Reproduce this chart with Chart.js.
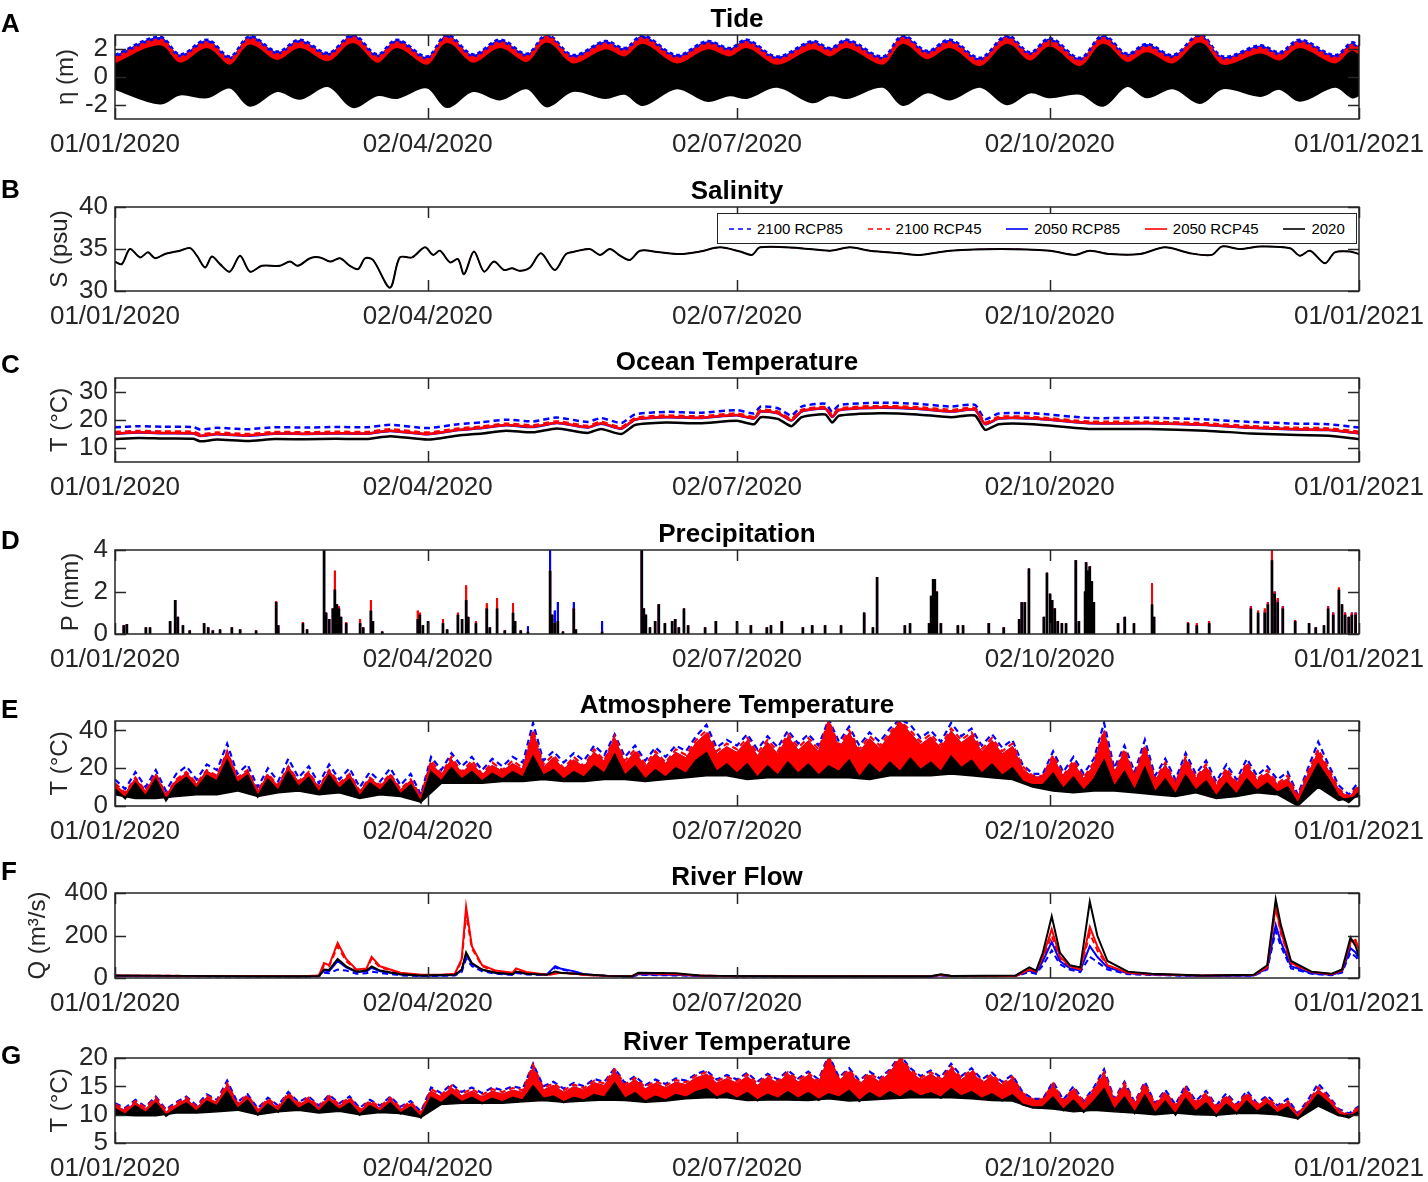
<!DOCTYPE html>
<html><head><meta charset="utf-8">
<script src="https://cdn.jsdelivr.net/npm/chart.js@4.4.1/dist/chart.umd.min.js"></script>
<style>
html,body{margin:0;padding:0;background:#fff;}
#wrap{position:relative;width:1428px;height:1182px;overflow:hidden;font-family:"Liberation Sans",Arial,sans-serif;}
canvas{position:absolute;left:0;}
.letter{position:absolute;left:1px;font-weight:bold;font-size:26px;line-height:26px;color:#000;}
#legend{position:absolute;left:717px;top:213px;width:638px;height:29px;border:1px solid #262626;background:#fff;z-index:5;font-size:15px;color:#000;}
#legend .it{position:absolute;top:0;height:29px;line-height:29px;white-space:nowrap;}
#legend svg{position:absolute;top:10px;}
</style></head><body>
<div id="wrap"></div>
<script>
// ---------- axis / scenario definitions ----------
const xTickDays = [0, 92, 183, 275, 366];
const xTickLabels = ['01/01/2020','02/04/2020','02/07/2020','02/10/2020','01/01/2021'];
const scenarioNames = ['2100 RCP85','2100 RCP45','2050 RCP85','2050 RCP45','2020'];

// ---------- A: Tide (envelopes of high / low water, m) ----------
const tideDays = [0,13.2,19.1,27.1,33.8,39.7,47.7,54.4,62.7,70.0,77.1,83.0,91.8,97.7,105.3,113.3,121.2,127.1,134.7,144.2,150.0,155.3,165.3,174.2,180.9,185.9,194.8,205.1,210.4,215.4,225.9,231.8,238.9,245.7,254.5,262.4,269.2,275.1,283.9,290.7,297.7,303.6,311.3,319.2,326.0,336.9,342.7,348.6,358.9,363.9,366];
const tideHi2020 = [0.9,2.2,0.95,2.0,0.8,2.25,1.15,2.0,1.05,2.35,0.95,2.0,0.8,2.35,0.95,2.0,1.0,2.4,0.9,1.9,1.4,2.3,0.9,1.9,1.4,2.0,0.8,1.9,1.4,2.0,0.8,2.3,1.2,2.0,0.7,2.3,1.1,2.1,0.7,2.3,1.0,1.7,0.9,2.4,0.8,1.6,1.1,2.0,0.9,1.8,1.5];
const tideLo2020 = [-0.85,-1.9,-1.25,-1.45,-0.75,-2.05,-1.0,-1.55,-0.65,-2.15,-1.3,-1.5,-0.75,-2.15,-1.0,-1.6,-0.8,-2.1,-1.0,-1.5,-1.2,-2.0,-0.8,-1.7,-1.3,-1.5,-0.7,-1.8,-1.3,-1.5,-0.7,-2.0,-1.1,-1.6,-0.7,-1.95,-1.1,-1.45,-1.2,-2.05,-0.65,-1.45,-0.8,-1.85,-0.8,-1.35,-0.85,-1.7,-0.7,-1.45,-1.3];
const tideHi2050R45 = [1.2,2.5,1.25,2.3,1.1,2.55,1.45,2.3,1.35,2.65,1.25,2.3,1.1,2.65,1.25,2.3,1.3,2.7,1.2,2.2,1.7,2.6,1.2,2.2,1.7,2.3,1.1,2.2,1.7,2.3,1.1,2.6,1.5,2.3,1.0,2.6,1.4,2.4,1.0,2.6,1.3,2.0,1.2,2.7,1.1,1.9,1.4,2.3,1.2,2.1,1.8];
const tideHi2050R85 = [1.25,2.55,1.3,2.35,1.15,2.6,1.5,2.35,1.4,2.7,1.3,2.35,1.15,2.7,1.3,2.35,1.35,2.75,1.25,2.25,1.75,2.65,1.25,2.25,1.75,2.35,1.15,2.25,1.75,2.35,1.15,2.65,1.55,2.35,1.05,2.65,1.45,2.45,1.05,2.65,1.35,2.05,1.25,2.75,1.15,1.95,1.45,2.35,1.25,2.15,1.85];
const tideHi2100R45 = [1.35,2.65,1.4,2.45,1.25,2.7,1.6,2.45,1.5,2.8,1.4,2.45,1.25,2.8,1.4,2.45,1.45,2.85,1.35,2.35,1.85,2.75,1.35,2.35,1.85,2.45,1.25,2.35,1.85,2.45,1.25,2.75,1.65,2.45,1.15,2.75,1.55,2.55,1.15,2.75,1.45,2.15,1.35,2.85,1.25,2.05,1.55,2.45,1.35,2.25,1.95];
const tideHi2100R85 = [1.55,2.85,1.6,2.65,1.45,2.9,1.8,2.65,1.7,3.0,1.6,2.65,1.45,3.0,1.6,2.65,1.65,3.0,1.55,2.55,2.05,2.95,1.55,2.55,2.05,2.65,1.45,2.55,2.05,2.65,1.45,2.95,1.85,2.65,1.35,2.95,1.75,2.75,1.35,2.95,1.65,2.35,1.55,3.0,1.45,2.25,1.75,2.65,1.55,2.45,2.15];

// ---------- B: Salinity (psu) ----------
const salDays = [0,2,4.4,7.4,9.7,11.8,14.7,19.1,22.1,24.1,26.5,28.5,30.9,33.8,36.8,39.7,43.2,48.5,51.5,53.8,57.4,60.3,63.3,66.2,69.1,71.5,73.6,75.9,80.9,83.8,87.4,91.2,93.6,95.6,98.6,100.9,102.7,105.6,108.6,111.5,114.4,116.8,119.2,122.1,125.3,129.4,132.7,135.3,139.7,142.7,145.6,148.6,151.5,154.5,160.3,166.2,172.1,178.0,183.9,187.4,189.8,201.5,210.4,216.2,222.1,231.0,236.8,245.7,260.4,275.1,282.4,286.8,292.7,301.6,308.9,316.3,322.7,325.7,331.0,336.9,345.7,348.6,351.6,356.0,358.9,363.3,366];
const salinity = [33.5,33.2,35.0,34.0,34.6,33.9,34.4,34.8,35.1,34.2,32.8,34.1,33.2,32.3,34.2,32.3,33.0,33.0,33.5,33.0,33.9,34.0,33.5,33.9,33.0,32.6,33.9,33.7,30.4,34.0,34.0,35.2,34.3,34.8,33.4,33.8,32.0,34.7,32.3,33.5,32.5,32.7,32.4,32.8,34.5,32.5,34.4,34.7,35.0,34.3,35.0,34.2,33.7,34.8,34.6,34.4,34.7,35.2,34.7,34.3,35.2,35.1,34.8,35.2,34.8,34.5,34.3,34.8,35.0,34.8,34.3,34.8,34.4,34.4,35.2,34.5,34.3,35.3,35.0,35.3,35.1,34.2,34.8,33.3,34.6,34.7,34.4];

// ---------- C: Ocean temperature (°C) ----------
const oceanDays = [0,7,14,23,25,30,39,47,56,65,74,81,92,101,108,115,123,130,139,143,149,153,162,172,183,188,190,195,199,202,209,211,213,225,236,246,253,256,260,270,287,304,321,334,348,357,366];
const ocean2020 = [13.2,13.6,13.4,13.3,12.4,13.0,12.5,13.2,13.1,13.3,13.2,14.2,13.0,14.5,15.2,16.2,15.6,17.0,15.4,16.8,15.0,18.2,19.1,18.8,19.7,18.5,21.0,20.4,17.8,21.0,22.0,19.1,21.5,22.4,22.0,21.0,21.6,16.5,18.5,18.5,16.8,16.8,16.2,15.2,14.6,14.4,13.2];
const ocean2050R45 = [15.2,15.6,15.4,15.3,14.4,15.0,14.5,15.2,15.1,15.3,15.2,16.2,15.0,16.5,17.2,18.2,17.6,19.0,17.4,18.8,17.0,20.2,21.1,20.8,21.8,20.6,23.1,22.5,19.9,23.1,24.1,21.2,23.6,24.5,24.1,23.1,23.7,18.6,20.6,20.6,18.9,18.9,18.3,17.3,16.7,16.5,15.3];
const ocean2050R85 = [15.1,15.5,15.3,15.2,14.3,14.9,14.4,15.1,15.0,15.2,15.1,16.1,14.9,16.4,17.1,18.1,17.5,18.9,17.3,18.7,16.9,20.1,21.0,20.7,21.7,20.5,23.0,22.4,19.8,23.0,24.0,21.1,23.5,24.4,24.0,23.0,23.6,18.5,20.5,20.5,18.8,18.8,18.2,17.2,16.6,16.4,15.2];
const ocean2100R45 = [15.7,16.1,15.9,15.8,14.9,15.5,15.0,15.7,15.6,15.8,15.7,16.7,15.5,17.0,17.7,18.7,18.1,19.5,17.9,19.3,17.5,20.7,21.6,21.3,22.3,21.1,23.6,23.0,20.4,23.6,24.6,21.7,24.1,25.0,24.6,23.6,24.2,19.1,21.1,21.1,19.4,19.4,18.8,17.8,17.2,17.0,15.8];
const ocean2100R85 = [17.4,17.8,17.6,17.5,16.6,17.2,16.7,17.4,17.3,17.5,17.4,18.3,17.1,18.5,19.2,20.1,19.5,20.9,19.3,20.7,18.9,22.0,22.9,22.6,23.5,22.3,24.8,24.2,21.6,24.8,25.8,22.9,25.3,26.2,25.8,24.8,25.4,20.3,22.3,22.4,20.7,20.8,20.2,19.3,18.7,18.5,17.3];

// ---------- D: Precipitation (mm) ----------
const precipDays = [2.6,3.5,9.1,10.3,16.2,17.7,18.5,20.0,22.0,26.2,27.4,28.8,30.9,34.4,36.8,41.5,47.4,48.0,55.3,56.5,61.5,62.1,63.0,64.1,64.7,65.3,65.9,66.5,68.0,72.1,73.0,75.3,75.9,78.6,89.1,89.7,90.6,92.1,96.5,97.7,100.9,102.1,103.3,103.9,106.2,109.4,110.3,112.4,114.7,117.1,117.7,119.4,121.5,128.0,128.6,129.4,130.3,131.8,135.0,135.6,143.3,155.0,155.6,156.2,157.4,158.9,160.0,161.8,163.9,164.8,165.9,167.4,168.6,173.6,176.8,183.0,187.1,191.8,193.0,196.2,202.4,205.1,208.9,213.6,220.4,223.0,224.2,232.4,233.9,239.5,240.1,240.7,241.2,241.8,243.0,248.0,249.5,257.1,261.5,266.0,266.8,267.7,268.9,273.3,274.2,275.1,275.7,276.5,277.4,278.6,279.8,282.7,283.6,285.4,285.7,286.3,286.8,287.4,288.0,295.1,297.1,299.8,305.1,305.7,315.7,318.3,321.9,334.2,336.3,338.3,339.2,340.4,341.2,342.1,343.6,347.2,351.3,353.3,355.7,356.9,358.4,360.1,361.0,361.9,363.0,363.9,365.0];
const precip2020 = [0.4,0.45,0.3,0.3,0.6,1.6,0.8,0.4,0.15,0.5,0.3,0.15,0.2,0.3,0.2,0.15,1.5,0.4,0.5,0.2,4.2,1.0,0.7,1.2,2.1,1.4,1.2,0.8,0.5,0.5,0.3,1.1,0.6,0.1,0.7,0.9,0.4,0.6,0.5,0.2,0.9,0.7,1.6,0.8,0.5,1.2,0.3,1.2,0.15,1.0,0.6,0.15,0.1,3.0,0.9,0.5,0.6,0.1,1.2,0.2,0.1,4.2,1.2,0.9,0.3,0.6,1.4,0.5,0.6,0.7,0.3,1.2,0.4,0.3,0.6,0.6,0.4,0.3,0.4,0.6,0.3,0.4,0.4,0.4,1.0,0.3,2.7,0.4,0.5,0.5,1.8,2.6,2.6,2.0,0.5,0.4,0.4,0.5,0.3,0.7,1.5,1.5,3.1,0.8,2.9,1.9,1.6,1.2,0.6,0.5,0.5,3.5,0.6,2.0,3.4,3.0,3.2,2.5,1.5,0.5,0.8,0.5,1.4,0.8,0.5,0.4,0.5,1.2,1.0,1.0,1.4,3.5,1.9,1.5,1.2,0.6,0.5,0.3,0.4,1.2,0.9,2.1,1.4,0.9,0.8,0.9,0.9];
const precipRCP45 = [0.4,0.45,0.3,0.3,0.6,1.6,0.8,0.4,0.15,0.5,0.3,0.15,0.2,0.3,0.2,0.15,1.55,0.4,0.55,0.2,4.2,1.0,0.7,1.2,3.0,1.4,1.3,0.8,0.55,0.7,0.3,1.6,0.6,0.1,1.1,1.0,0.4,0.6,0.7,0.2,1.0,0.7,2.3,0.8,0.6,1.45,0.3,1.7,0.15,1.45,0.6,0.15,0.1,3.0,0.9,0.5,0.6,0.1,1.2,0.2,0.1,4.2,1.2,0.9,0.3,0.6,1.4,0.5,0.6,0.7,0.3,1.2,0.4,0.3,0.6,0.6,0.4,0.3,0.4,0.6,0.3,0.4,0.4,0.4,1.0,0.3,2.7,0.4,0.5,0.5,1.8,2.6,2.6,2.0,0.5,0.4,0.4,0.5,0.3,0.7,1.5,1.5,3.1,0.8,2.9,1.9,1.6,1.2,0.6,0.5,0.5,3.5,0.6,2.0,3.4,3.0,3.2,2.5,1.5,0.5,0.8,0.5,2.4,0.8,0.55,0.5,0.6,1.3,1.1,1.2,1.5,4.2,2.0,1.7,1.3,0.65,0.5,0.3,0.4,1.3,1.0,2.2,1.4,1.0,0.8,1.0,1.0];
const precipRCP85 = [0.4,0.45,0.3,0.3,0.6,1.6,0.8,0.4,0.15,0.5,0.3,0.15,0.2,0.3,0.2,0.15,1.5,0.4,0.5,0.2,4.2,1.0,0.7,1.2,2.1,1.4,1.2,0.8,0.5,0.5,0.3,1.1,0.6,0.1,0.7,0.9,0.4,0.6,0.5,0.2,0.9,0.7,1.6,0.8,0.5,1.2,0.3,1.2,0.15,1.0,0.6,0.15,0.35,4.2,0.9,1.1,1.5,0.1,1.5,0.2,0.6,4.2,1.2,0.9,0.3,0.6,1.4,0.5,0.6,0.7,0.3,1.2,0.4,0.3,0.6,0.6,0.4,0.3,0.4,0.6,0.3,0.4,0.4,0.4,1.0,0.3,2.7,0.4,0.5,0.5,1.8,2.6,2.6,2.0,0.5,0.4,0.4,0.5,0.3,0.7,1.5,1.5,3.1,0.8,2.9,1.9,1.6,1.2,0.6,0.5,0.5,3.5,0.6,2.0,3.4,3.0,3.2,2.5,1.5,0.5,0.8,0.5,1.4,0.8,0.5,0.4,0.5,1.3,1.0,1.1,1.5,4.0,2.0,1.6,1.3,0.6,0.5,0.3,0.4,1.3,1.0,2.1,1.4,1.0,0.8,1.0,1.0];

// ---------- E: Atmosphere temperature (°C), sampled every 3 days ----------
const sampleStep = 3;
const atmT2020 = [9,4,12,5,14,3,11,15,9,16,13, 24,12,16,5,14,8,18,10,15, 7,16,9,14,5,12,8,14,6,11,2, 18,13,20,14,18,13,17,14,18,15,26,16,19,14,18,15,21,17,27,16,21,14,19,15,20,17,24,28,18,22, 17,22,15,21,16,23,17,22,16,21,18,24,15,22,17,23,18,25,19,23,18,26,20,24,17,22,16,20,13,11,11, 17,9,15,8,14,24,10,18,8,20,7,14,6,16,8,13,5,12,6,14,8,12,7,10,1,12,22,14,5,2,7];
const atmT2050R45 = [11,6,14,7,16,5,13,17,11,18,15, 28,14,18,7,16,10,20,12,17, 9,18,11,16,7,14,10,16,8,13,4, 22,16,24,17,22,16,21,18,22,19,38,20,25,19,24,20,28,23,35,22,28,20,27,22,28,25,33,38,27,31, 28,34,26,33,27,36,29,34,28,44,30,38,28,35,30,37,44,38,32,36,30,39,33,37,28,34,27,31,19,15,15, 25,15,22,14,21,38,17,28,15,30,13,21,11,24,14,20,10,18,11,21,13,17,11,14,4,16,28,18,8,4,10];
const atmT2050R85 = [11,6,14,7,16,5,13,17,11,18,15, 28,14,18,7,16,10,20,12,17, 9,18,11,16,7,14,10,16,8,13,4, 22,16,24,17,22,16,21,18,22,19,38,20,25,19,24,20,28,23,35,22,28,20,27,22,28,25,33,38,27,31, 28,34,26,33,27,36,29,34,28,44,30,38,28,35,30,37,44,38,32,36,30,39,33,37,28,34,27,31,19,15,15, 25,15,22,14,21,38,17,28,15,30,13,21,11,24,14,20,10,18,11,21,13,17,11,14,4,16,28,18,8,4,10];
const atmT2100R45 = [12,7,15,8,17,6,14,18,12,19,16, 29,15,19,8,17,11,21,13,18, 10,19,12,17,8,15,11,17,9,14,5, 24,17,26,18,24,17,23,19,24,20,40,22,27,20,26,21,30,24,37,24,30,22,29,23,30,27,35,40,29,33, 30,36,28,35,29,38,31,36,30,45,32,40,30,37,32,39,45,40,34,38,32,41,35,39,30,36,29,33,21,16,16, 27,16,24,15,23,40,18,30,16,32,14,23,12,26,15,22,11,20,12,23,14,19,12,16,5,18,30,20,9,5,11];
const atmT2100R85 = [14,9,18,10,19,8,17,21,14,22,19, 33,17,22,10,20,13,25,15,21, 12,22,14,20,10,18,13,20,11,17,6, 26,19,28,21,26,19,25,21,26,23,44,24,29,23,28,24,32,27,38,26,32,24,31,26,32,29,37,43,31,35, 32,38,30,37,31,40,33,38,32,46,34,42,32,39,34,41,46,43,36,40,34,44,37,41,32,38,31,35,22,17,17, 29,18,26,17,25,44,20,32,18,35,16,25,14,28,17,24,13,22,14,25,16,21,14,18,6,20,34,22,11,6,13];
// 2020 daily-minimum envelope, sampled every 6 days
const envStep = 6;
const atmMin2020 = [6,4,4,5,6,6, 8,5,7,8, 6,7,4,6,5,2, 12,12,12,13,13,14,13,13,14,14,13,14,15,16,16, 14,15,15,15,15,15,14,16,16,16,17,16,15,14,10, 8,7,8,8,7,6,5,7,4,5,7,6,0,10,3,5];

// ---------- F: River flow (m³/s) ----------
const flowDays = [0,20,40,55,60,61.5,63,65.5,68,71,74,75.5,78,84,90,96,100,102,103.3,105,108,112,117,118,121,127,129.5,131,135.5,138,145,152,154,165,172,178,200,240,243,246,265,269,271,273,275.6,278,281,284,286.8,289,292,298,305,320,335,339,341.5,343,346,352,358,361,363.5,365,366];
const flow2020 = [12,10,8,8,10, 40,38,90,55,30, 35,55,35,18,12, 14,15,40,120,70, 40,25,18,30,20, 15,30,25,20,18, 10,8,25,22,12, 10,8,8,18,10, 12,50,35,120,290, 120,60,50,360,200, 80,30,20,12,15, 60,370,250,80,30, 20,40,190,150,100];
const flow2050R45 = [12,10,9,8,12, 70,60,165,90,40, 45,100,55,25,15, 15,20,90,335,150, 60,35,25,45,28, 15,20,25,20,15, 10,8,22,18,12, 10,8,8,15,10, 10,40,30,100,230, 100,55,40,240,150, 60,25,18,12,14, 50,340,220,70,28, 18,35,170,180,130];
const flow2050R85 = [10,9,8,7,9, 35,32,80,50,28, 30,48,32,16,11, 12,14,35,110,65, 38,24,17,28,20, 16,56,45,30,18, 10,7,18,15,10, 9,7,7,14,9, 10,35,25,80,170, 80,45,35,150,100, 50,22,16,10,12, 45,250,170,55,22, 15,30,140,120,90];
const flow2100R45 = [11,10,9,8,11, 60,55,150,80,38, 42,90,50,22,14, 14,18,80,300,140, 55,32,22,40,25, 14,20,24,19,14, 10,8,20,16,11, 9,7,7,14,9, 10,35,28,90,200, 90,50,38,210,130, 55,22,16,11,13, 45,330,210,65,26, 17,32,160,170,125];
const flow2100R85 = [9,8,7,6,8, 25,22,40,35,20, 22,30,24,12,9, 10,12,28,90,55, 32,20,14,24,16, 14,50,40,28,16, 9,6,15,12,9, 8,6,6,12,8, 9,28,20,60,130, 65,38,28,100,75, 40,18,14,9,11, 40,220,150,45,20, 13,25,120,100,80];

// ---------- G: River temperature (°C), sampled every 3 days ----------
const rivT2020 = [11,10,11.5,10.3,12,9.8,11,12,10.5,12.3,11.5, 14,11,12.5,10,11.8,10.5,12.8,11,12, 10.5,12.3,10.8,12,10,11.5,10.5,12,10.2,11.3,9.5, 13,12,13.5,12.2,13,12,12.8,12.2,13,12.5,15,12.8,13.2,12.2,13,12.5,13.5,13,15.5,12.8,13.8,12.3,13.2,12.5,13.5,13,14,14.5,13,13.8, 12.8,13.8,12.5,13.5,12.8,14,12.8,13.8,12.6,13.6,13,14.2,12.4,13.8,12.8,14,13,14.2,13.2,13.8,13,14.5,13.2,14,12.8,13.6,12.5,13.4,11.8,11.3,11.3, 13,10.8,12.5,10.5,12.3,14.5,10.8,13,10.3,13.3,10.2,12.3,10,12.8,10.5,12,9.8,11.8,10.2,12.3,10.5,11.8,10.2,11.3,9.3,11.3,13.5,12,10,9.5,10.5];
const rivT2050R45 = [11.5,10.6,12,10.8,12.6,10.3,11.6,12.6,11,12.9,12, 15,11.6,13,10.5,12.4,11,13.4,11.6,12.6, 11,12.9,11.4,12.6,10.6,12,11,12.6,10.8,11.8,10, 14,13,14.6,13.2,14,13,14,13.5,14.2,13.8,18,14.2,15,13.8,14.8,14.2,15.5,15,17.5,14.8,16,14.4,15.4,14.6,15.6,15.2,16.4,17,15.4,16.2, 15.4,16.6,15,16.4,15.4,17,15.6,16.8,15.4,19.8,15.8,17.4,15.2,16.8,15.6,17.2,19.8,17.4,16,17,15.8,18,16,17.4,15.4,16.6,15,16.2,13.4,12.4,12.4, 15,12,14.2,11.8,14,17,12.2,15,11.6,15,11.4,13.6,11.2,14.4,11.8,13.4,11,13,11.2,13.4,11.4,12.6,11,12,9.8,12,14.2,12.8,10.5,9.8,11];
const rivT2050R85 = [11.5,10.6,12,10.8,12.6,10.3,11.6,12.6,11,12.9,12, 15,11.6,13,10.5,12.4,11,13.4,11.6,12.6, 11,12.9,11.4,12.6,10.6,12,11,12.6,10.8,11.8,10, 14,13,14.6,13.2,14,13,14,13.5,14.2,13.8,18,14.2,15,13.8,14.8,14.2,15.5,15,17.5,14.8,16,14.4,15.4,14.6,15.6,15.2,16.4,17,15.4,16.2, 15.4,16.6,15,16.4,15.4,17,15.6,16.8,15.4,19.8,15.8,17.4,15.2,16.8,15.6,17.2,19.8,17.4,16,17,15.8,18,16,17.4,15.4,16.6,15,16.2,13.4,12.4,12.4, 15,12,14.2,11.8,14,17,12.2,15,11.6,15,11.4,13.6,11.2,14.4,11.8,13.4,11,13,11.2,13.4,11.4,12.6,11,12,9.8,12,14.2,12.8,10.5,9.8,11];
const rivT2100R45 = [11.8,11,12.4,11.2,13,10.7,12,13,11.4,13.3,12.4, 15.5,12,13.4,10.9,12.8,11.4,13.8,12,13, 11.4,13.3,11.8,13,11,12.4,11.4,13,11.2,12.2,10.3, 14.5,13.5,15.1,13.7,14.5,13.5,14.5,14,14.7,14.3,18.8,14.7,15.5,14.3,15.3,14.7,16,15.5,18,15.3,16.5,14.9,15.9,15.1,16.1,15.7,16.9,17.5,15.9,16.7, 15.9,17.1,15.5,16.9,15.9,17.5,16.1,17.3,15.9,20.2,16.3,17.9,15.7,17.3,16.1,17.7,20.2,17.9,16.5,17.5,16.3,18.5,16.5,17.9,15.9,17.1,15.5,16.7,13.8,12.7,12.7, 15.5,12.4,14.7,12.2,14.5,17.5,12.6,15.5,12,15.5,11.8,14,11.6,14.8,12.2,13.8,11.4,13.4,11.6,13.8,11.8,13,11.4,12.4,10,12.3,14.8,13.1,10.8,10,11.3];
const rivT2100R85 = [12,11.2,12.6,11.4,13.2,10.9,12.2,13.2,11.6,13.6,12.6, 16,12.2,13.6,11.1,13,11.6,14,12.2,13.2, 11.6,13.5,12,13.2,11.2,12.6,11.6,13.2,11.4,12.4,10.5, 14.8,13.8,15.4,14,14.8,13.8,14.8,14.3,15,14.6,19,15,15.8,14.6,15.6,15,16.3,15.8,18.2,15.6,16.8,15.2,16.2,15.4,16.4,16,17.2,17.8,16.2,17, 16.2,17.4,15.8,17.2,16.2,17.8,16.4,17.6,16.2,20.5,16.6,18.2,16,17.6,16.4,18,20.5,18.2,16.8,17.8,16.6,19,16.8,18.2,16.2,17.4,15.8,17,14,12.8,12.8, 15.8,12.6,15,12.4,14.8,18,12.8,15.8,12.2,15.8,12,14.4,11.8,15.2,12.4,14.2,11.6,13.8,11.8,14.2,12,13.4,11.6,12.8,10.2,12.6,15.5,13.4,11,10.2,11.5];
// 2020 daily-minimum envelope, sampled every 6 days
const rivMin2020 = [10,9.8,9.8,10.3,10.3,10.5, 10.8,10,10.5,10.8, 10.3,10.6,10,10.4,10.2,9.5, 11.8,12,12,12,12.3,12.5,12.2,12.4,12.6,12.5,12.2,12.4,12.8,13,13, 12.5,12.6,12.6,12.5,12.8,12.4,12.6,12.8,13,13,13,12.8,12.5,12.4,11.2, 11,10.5,10.8,10.5,10.3,10,10.3,10,9.9,10.2,10.2,10,9.3,11.5,9.8,10];

// ---------- styling ----------
const BLUE = '#0000ff', RED = '#ff0000', BLACK = '#000000', AXIS = '#262626';
const FONT = '"Liberation Sans", Arial, Helvetica, sans-serif';
Chart.defaults.font.family = FONT;
const styleOf = {
  '2100 RCP85': {color: BLUE, dash: [6, 4], order: 4},
  '2100 RCP45': {color: RED, dash: [6, 4], order: 3},
  '2050 RCP85': {color: BLUE, dash: [], order: 2},
  '2050 RCP45': {color: RED, dash: [], order: 1},
  '2020': {color: BLACK, dash: [], order: 0}
};
const pts = (days, vals) => vals.map((v, i) => ({x: days[i], y: v}));
const gridDays = (vals, step) => vals.map((v, i) => Math.min(366, i * step));
function lineSet(name, days, vals, width, tension) {
  const s = styleOf[name];
  return {label: name, data: pts(days, vals), borderColor: s.color, backgroundColor: s.color,
    borderDash: s.dash, borderWidth: width, pointRadius: 0, tension: tension || 0, order: s.order, fill: false};
}
function barSet(name, vals) {
  const s = styleOf[name];
  return {type: 'bar', label: name, data: pts(precipDays, vals), backgroundColor: s.color,
    barThickness: name === '2020' ? 2 : 1.4, grouped: false, order: s.order};
}
// noisy hourly series: red (2050 RCP45) shaded down to 2020, 2020 shaded down to its daily minimum
function noisySets(vals, minVals) {
  const sets = scenarioNames.map(n => lineSet(n, gridDays(vals[n], sampleStep), vals[n], 2.2, 0));
  sets[3].fill = 4;
  sets[4].fill = 5;
  sets.push({label: '2020 daily minimum', data: pts(gridDays(minVals, envStep), minVals), borderColor: BLACK,
    borderWidth: 1.5, pointRadius: 0, tension: 0, order: 0, fill: false});
  return sets;
}

const tideSets = [
  {label: '2050 RCP85', data: pts(tideDays, tideHi2050R85), borderColor: BLUE, borderWidth: 2, pointRadius: 0, tension: 0.35, order: 7, fill: false},
  {label: '2050 RCP45', data: pts(tideDays, tideHi2050R45), borderColor: RED, borderWidth: 2, pointRadius: 0, tension: 0.35, order: 6, fill: false},
  {label: '2100 RCP85', data: pts(tideDays, tideHi2100R85), borderColor: BLUE, backgroundColor: BLUE, borderDash: [4, 3], borderWidth: 3, pointRadius: 0, tension: 0.35, order: 5, fill: 'origin'},
  {label: '2100 RCP45', data: pts(tideDays, tideHi2100R45), borderColor: RED, backgroundColor: RED, borderDash: [4, 3], borderWidth: 3, pointRadius: 0, tension: 0.35, order: 4, fill: 'origin'},
  {label: '2020', data: pts(tideDays, tideHi2020), borderColor: BLACK, backgroundColor: BLACK, borderWidth: 2, pointRadius: 0, tension: 0.35, order: 1, fill: 5},
  {label: '2020 low water', data: pts(tideDays, tideLo2020), borderColor: BLACK, borderWidth: 2, pointRadius: 0, tension: 0.35, order: 0, fill: false}
];
const salSets = scenarioNames.map(n => lineSet(n, salDays, salinity, n === '2020' ? 2 : 1, 0.3));
const oceanVals = {'2100 RCP85': ocean2100R85, '2100 RCP45': ocean2100R45, '2050 RCP85': ocean2050R85, '2050 RCP45': ocean2050R45, '2020': ocean2020};
const oceanSets = scenarioNames.map(n => lineSet(n, oceanDays, oceanVals[n], 2.5, 0.2));
const precipVals = {'2100 RCP85': precipRCP85, '2100 RCP45': precipRCP45, '2050 RCP85': precipRCP85, '2050 RCP45': precipRCP45, '2020': precip2020};
const precipSets = scenarioNames.map(n => barSet(n, precipVals[n]));
const atmVals = {'2100 RCP85': atmT2100R85, '2100 RCP45': atmT2100R45, '2050 RCP85': atmT2050R85, '2050 RCP45': atmT2050R45, '2020': atmT2020};
const atmSets = noisySets(atmVals, atmMin2020);
const flowVals = {'2100 RCP85': flow2100R85, '2100 RCP45': flow2100R45, '2050 RCP85': flow2050R85, '2050 RCP45': flow2050R45, '2020': flow2020};
const flowSets = scenarioNames.map(n => lineSet(n, flowDays, flowVals[n], 2, 0));
const rivVals = {'2100 RCP85': rivT2100R85, '2100 RCP45': rivT2100R45, '2050 RCP85': rivT2050R85, '2050 RCP45': rivT2050R45, '2020': rivT2020};
const rivSets = noisySets(rivVals, rivMin2020);

const panels = [
  {letter: 'A', top: 35, h: 84, title: 'Tide', ylabel: 'η (m)', ymin: -3, ymax: 3, yticks: [-2, 0, 2], ypad: 52, type: 'line', sets: tideSets},
  {letter: 'B', top: 207, h: 84, title: 'Salinity', ylabel: 'S (psu)', ymin: 30, ymax: 40, yticks: [30, 35, 40], ypad: 46, type: 'line', sets: salSets},
  {letter: 'C', top: 378, h: 84, title: 'Ocean Temperature', ylabel: 'T (°C)', ymin: 5, ymax: 35, yticks: [10, 20, 30], ypad: 46, type: 'line', sets: oceanSets},
  {letter: 'D', top: 550, h: 84, title: 'Precipitation', ylabel: 'P (mm)', ymin: 0, ymax: 4, yticks: [0, 2, 4], ypad: 57, type: 'bar', sets: precipSets},
  {letter: 'E', top: 721, h: 85, title: 'Atmosphere Temperature', ylabel: 'T (°C)', ymin: 0, ymax: 45, yticks: [0, 20, 40], ypad: 46, type: 'line', sets: atmSets},
  {letter: 'F', top: 893, h: 85, title: 'River Flow', ylabel: 'Q (m³/s)', ymin: 0, ymax: 400, yticks: [0, 200, 400], ypad: 24, type: 'line', sets: flowSets},
  {letter: 'G', top: 1058, h: 85, title: 'River Temperature', ylabel: 'T (°C)', ymin: 5, ymax: 20, yticks: [5, 10, 15, 20], ypad: 46, type: 'line', sets: rivSets}
];
const letterTops = {A: 10, B: 176, C: 351, D: 527, E: 696, F: 858, G: 1042};

// box with inward ticks on all four sides (drawn from the chart's scales)
const boxPlugin = {
  id: 'matlabBox',
  afterDraw(chart) {
    const {ctx, chartArea: a, scales: {x, y}} = chart;
    const L = 11;
    ctx.save();
    ctx.strokeStyle = AXIS; ctx.lineWidth = 1.5;
    ctx.beginPath();
    x.ticks.forEach(t => {
      const px = Math.round(x.getPixelForValue(t.value)) + 0.5;
      ctx.moveTo(px, a.bottom); ctx.lineTo(px, a.bottom - L);
      ctx.moveTo(px, a.top); ctx.lineTo(px, a.top + L);
    });
    y.ticks.forEach(t => {
      const py = Math.round(y.getPixelForValue(t.value)) + 0.5;
      ctx.moveTo(a.left, py); ctx.lineTo(a.left + L, py);
      ctx.moveTo(a.right, py); ctx.lineTo(a.right - L, py);
    });
    ctx.stroke();
    ctx.strokeRect(a.left, a.top, a.right - a.left, a.bottom - a.top);
    ctx.restore();
  }
};

const wrap = document.getElementById('wrap');
panels.forEach(p => {
  const cv = document.createElement('canvas');
  cv.width = 1428; cv.height = 40 + p.h + 48;
  cv.style.top = (p.top - 40) + 'px';
  cv.style.width = '1428px'; cv.style.height = cv.height + 'px';
  wrap.appendChild(cv);
  const lt = document.createElement('div');
  lt.className = 'letter'; lt.textContent = p.letter; lt.style.top = letterTops[p.letter] + 'px';
  wrap.appendChild(lt);
  new Chart(cv, {
    type: p.type,
    data: {datasets: p.sets},
    options: {
      responsive: false, animation: false, events: [],
      layout: {padding: {left: 0, right: 69, top: 8.8, bottom: 0}},
      plugins: {
        legend: {display: false}, tooltip: {enabled: false},
        title: {display: true, text: p.title, color: '#000', fullSize: false,
          font: {size: 26, weight: 'bold', family: FONT}, padding: {top: 0, bottom: 0}}
      },
      scales: {
        x: {type: 'linear', min: 0, max: 366, offset: false,
          grid: {display: false, drawTicks: false}, border: {display: false},
          afterBuildTicks: s => { s.ticks = xTickDays.map(v => ({value: v})); },
          ticks: {autoSkip: false, maxRotation: 0, minRotation: 0, padding: 10, color: AXIS,
            font: {size: 26, family: FONT}, callback: (v, i) => xTickLabels[i]},
          afterFit: s => { s.height = 48; s.paddingLeft = 0; s.paddingRight = 0; }},
        y: {type: 'linear', min: p.ymin, max: p.ymax,
          grid: {display: false, drawTicks: false}, border: {display: false},
          afterBuildTicks: s => { s.ticks = p.yticks.map(v => ({value: v})); },
          ticks: {autoSkip: false, padding: 7, color: AXIS, font: {size: 26, family: FONT}, callback: v => String(v)},
          title: {display: true, text: p.ylabel, color: AXIS, font: {size: 24, family: FONT}, padding: {top: p.ypad, bottom: 0}},
          afterFit: s => { s.width = 115; s.paddingTop = 0; s.paddingBottom = 0; }}
      }
    },
    plugins: [boxPlugin]
  });
});

// legend (inside the salinity panel)
const legendStyle = [
  {name: '2100 RCP85', color: BLUE, dash: '5,4'},
  {name: '2100 RCP45', color: RED, dash: '5,4'},
  {name: '2050 RCP85', color: BLUE, dash: ''},
  {name: '2050 RCP45', color: RED, dash: ''},
  {name: '2020', color: BLACK, dash: ''}
];
const lg = document.createElement('div'); lg.id = 'legend';
legendStyle.forEach((e, i) => {
  const it = document.createElement('div'); it.className = 'it';
  it.style.left = (10 + 138.6 * i) + 'px';
  it.innerHTML = '<svg width="24" height="10" style="left:0"><line x1="1" y1="5" x2="23" y2="5" stroke="' + e.color +
    '" stroke-width="1.6"' + (e.dash ? ' stroke-dasharray="' + e.dash + '"' : '') + '/></svg><span style="position:absolute;left:29px;">' + e.name + '</span>';
  lg.appendChild(it);
});
wrap.appendChild(lg);
</script>
</body></html>
